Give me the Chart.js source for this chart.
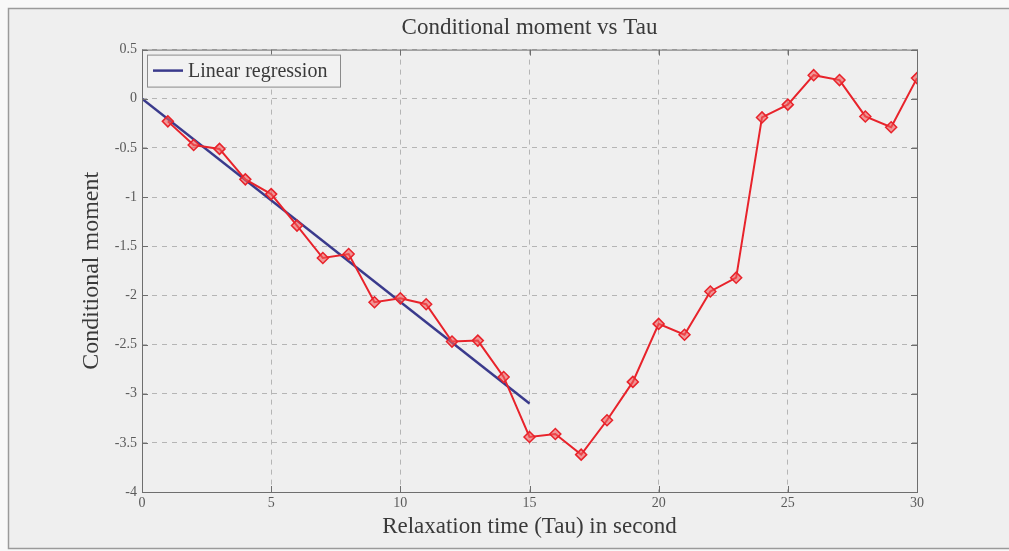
<!DOCTYPE html>
<html>
<head>
<meta charset="utf-8">
<script src="https://cdn.jsdelivr.net/npm/chart.js@4.4.0/dist/chart.umd.min.js"></script>
<style>
  html, body { margin: 0; padding: 0; background: #f8f8f8; }
  canvas { display: block; }
</style>
</head>
<body>
<canvas id="chart-moment" width="1009" height="551"></canvas>
<script>
// Tau (s) and measured conditional moment
const tauValues = [1, 2, 3, 4, 5, 6, 7, 8, 9, 10, 11, 12, 13, 14, 15,
    16, 17, 18, 19, 20, 21, 22, 23, 24, 25, 26, 27, 28, 29, 30];
const momentValues = [-0.23, -0.47, -0.51, -0.82, -0.97, -1.29, -1.62, -1.58, -2.07, -2.03,
    -2.09, -2.47, -2.46, -2.83, -3.44, -3.41, -3.62, -3.27, -2.88, -2.29,
    -2.40, -1.96, -1.82, -0.19, -0.06, 0.24, 0.19, -0.18, -0.29, 0.21];

// Linear regression fitted over the first part
const regressionTau = [0, 15];
const regressionValues = [0, -3.1];

const xTicks = [0, 5, 10, 15, 20, 25, 30];
const yTicks = [0.5, 0, -0.5, -1, -1.5, -2, -2.5, -3, -3.5, -4];

const serif = "'Liberation Serif', 'DejaVu Serif', serif";

// Fondo gris y marco de la figura
const frameBackground = {
    id: "frameBackground",
    beforeDraw(chart) {
        const c = chart.ctx;
        c.save();
        c.fillStyle = "#f8f8f8";
        c.fillRect(0, 0, chart.width, chart.height);
        c.fillStyle = "#efefef";
        c.fillRect(8, 8, chart.width, 541);
        c.strokeStyle = "#9a9a9a";
        c.lineWidth = 1.5;
        c.strokeRect(8.5, 8.5, chart.width + 10, 540);
        c.restore();
    },
    afterDatasetsDraw(chart) {
        // caja del eje con marcas hacia dentro (como en MATLAB)
        const a = chart.chartArea;
        const c = chart.ctx;
        const xs = chart.scales.x;
        const ys = chart.scales.y;
        c.save();
        c.strokeStyle = "#6e6e6e";
        c.lineWidth = 1;
        c.strokeRect(a.left + 0.5, a.top + 0.5, a.right - a.left, a.bottom - a.top);
        c.beginPath();
        xTicks.forEach((v) => {
            const px = Math.round(xs.getPixelForValue(v)) + 0.5;
            c.moveTo(px, a.bottom);
            c.lineTo(px, a.bottom - 6);
            c.moveTo(px, a.top);
            c.lineTo(px, a.top + 6);
        });
        yTicks.forEach((v) => {
            const py = Math.round(ys.getPixelForValue(v)) + 0.5;
            c.moveTo(a.left, py);
            c.lineTo(a.left + 6, py);
            c.moveTo(a.right, py);
            c.lineTo(a.right - 6, py);
        });
        c.stroke();
        c.restore();
    },
};

// Leyenda dentro del área del gráfico
const insideLegend = {
    id: "insideLegend",
    afterDraw(chart) {
        const ds = chart.data.datasets[1];
        const c = chart.ctx;
        const x = chart.chartArea.left + 5;
        const y = chart.chartArea.top + 5;
        c.save();
        c.fillStyle = "#f2f2f2";
        c.fillRect(x, y, 193, 32);
        c.strokeStyle = "#8a8a8a";
        c.lineWidth = 1;
        c.strokeRect(x + 0.5, y + 0.5, 193, 32);
        c.strokeStyle = ds.borderColor;
        c.lineWidth = 2.5;
        c.beginPath();
        c.moveTo(x + 6, y + 16);
        c.lineTo(x + 36, y + 16);
        c.stroke();
        c.fillStyle = "#3a3a3a";
        c.font = "20px " + serif;
        c.textBaseline = "middle";
        c.fillText(ds.label, x + 41, y + 17);
        c.restore();
    },
};

const ctx = document.getElementById("chart-moment").getContext("2d");

new Chart(ctx, {
    type: "line",
    data: {
        datasets: [
            {
                label: "Conditional moment",
                data: tauValues.map((t, i) => ({ x: t, y: momentValues[i] })),
                borderColor: "#e8232b",
                borderWidth: 2,
                pointStyle: "rectRot",
                pointRadius: 5.5,
                pointBorderWidth: 1.5,
                pointBorderColor: "#e8232b",
                pointBackgroundColor: "rgba(240, 90, 90, 0.6)",
                tension: 0,
            },
            {
                label: "Linear regression",
                data: regressionTau.map((t, i) => ({ x: t, y: regressionValues[i] })),
                borderColor: "#3a3a8c",
                borderWidth: 2.5,
                pointRadius: 0,
                tension: 0,
            },
        ],
    },
    options: {
        responsive: false,
        animation: false,
        layout: {
            padding: { left: 0, right: 92, top: 0, bottom: 0 },
        },
        plugins: {
            legend: { display: false },
            tooltip: { enabled: false },
            title: {
                display: true,
                text: "Conditional moment vs Tau",
                fullSize: false,
                color: "#3a3a3a",
                font: { size: 23, family: serif, weight: "normal", lineHeight: 1.2 },
                padding: { top: 14, bottom: 8 },
            },
        },
        scales: {
            x: {
                type: "linear",
                min: 0,
                max: 30,
                afterBuildTicks: (scale) => {
                    scale.ticks = xTicks.map((v) => ({ value: v }));
                },
                afterFit: (scale) => {
                    scale.height = 59;
                },
                grid: {
                    color: "#b5b5b5",
                    lineWidth: 1,
                    drawTicks: false,
                },
                border: { display: false, dash: [5, 5] },
                ticks: {
                    padding: 3,
                    color: "#5a5a5a",
                    font: { size: 14, family: serif },
                    maxRotation: 0,
                },
                title: {
                    display: true,
                    text: "Relaxation time (Tau) in second",
                    color: "#3a3a3a",
                    font: { size: 23, family: serif, lineHeight: 1.2 },
                    padding: { top: 0, bottom: 10 },
                },
            },
            y: {
                type: "linear",
                min: -4,
                max: 0.5,
                afterBuildTicks: (scale) => {
                    scale.ticks = yTicks.map((v) => ({ value: v }));
                },
                afterFit: (scale) => {
                    scale.width = 142;
                },
                grid: {
                    color: "#b5b5b5",
                    lineWidth: 1,
                    drawTicks: false,
                },
                border: { display: false, dash: [5, 5] },
                ticks: {
                    padding: 5,
                    color: "#5a5a5a",
                    font: { size: 14, family: serif },
                    callback: (v) => String(v),
                },
                title: {
                    display: true,
                    text: "Conditional moment",
                    color: "#3a3a3a",
                    font: { size: 24, family: serif, lineHeight: 1.2 },
                    padding: { top: 77, bottom: 0 },
                },
            },
        },
    },
    plugins: [frameBackground, insideLegend],
});
</script>
</body>
</html>
